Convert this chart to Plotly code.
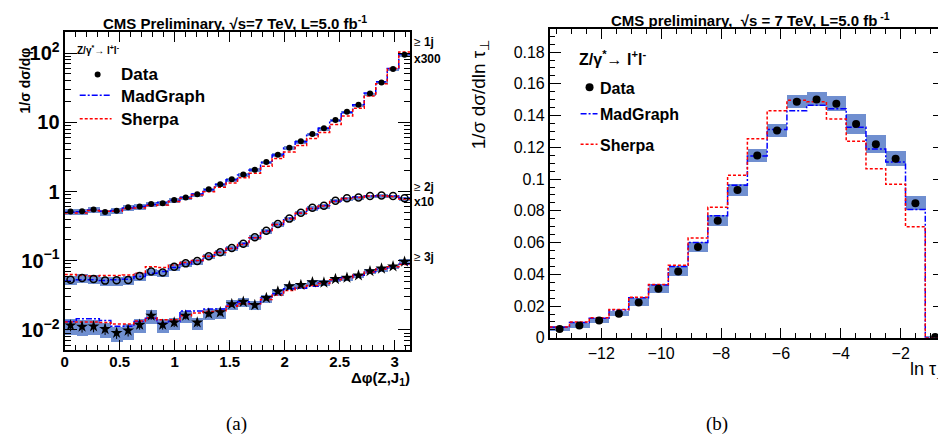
import math
import plotly.graph_objects as go

W, H = 946, 441

# ---------------- panel (a): delta phi(Z, J1) ----------------
dphi_nbins = 30
dphi_max = math.pi

# >=1 jet (x300)
s1_data = [0.515, 0.52, 0.55, 0.505, 0.527, 0.594, 0.607, 0.662, 0.677, 0.755,
           0.823, 0.916, 1.08, 1.27, 1.50, 1.76, 2.07, 2.66, 3.40, 4.29,
           5.33, 6.76, 8.22, 10.8, 14.2, 18.0, 26.1, 37.7, 58.9, 94.8]
s1_mg = [0.50, 0.51, 0.54, 0.52, 0.53, 0.58, 0.61, 0.65, 0.69, 0.75,
         0.82, 0.92, 1.06, 1.26, 1.48, 1.74, 2.05, 2.62, 3.38, 4.25,
         5.25, 6.70, 8.20, 10.6, 14.0, 18.0, 26.5, 38.5, 60.0, 97.0]
s1_sh = [0.49, 0.49, 0.53, 0.52, 0.52, 0.57, 0.58, 0.63, 0.64, 0.72,
         0.80, 0.89, 0.99, 1.15, 1.33, 1.58, 1.84, 2.32, 3.00, 3.72,
         4.62, 5.85, 7.10, 9.30, 12.3, 16.0, 24.0, 36.0, 60.0, 104.0]
s1_err = [0.10, 0.10, 0.10, 0.10, 0.10, 0.09, 0.09, 0.09, 0.08, 0.07,
          0.07, 0.07, 0.07, 0.06, 0.06, 0.06, 0.06, 0.06, 0.06, 0.06,
          0.06, 0.06, 0.06, 0.06, 0.05, 0.05, 0.05, 0.05, 0.05, 0.06]

# >=2 jets (x10)
s2_data = [0.0533, 0.0562, 0.0544, 0.0516, 0.0521, 0.0526, 0.060, 0.0699, 0.0676, 0.0822,
           0.0916, 0.099, 0.1165, 0.1327, 0.153, 0.176, 0.219, 0.272, 0.340, 0.406,
           0.494, 0.581, 0.621, 0.738, 0.797, 0.822, 0.859, 0.879, 0.859, 0.797]
s2_mg = [0.051, 0.053, 0.053, 0.052, 0.053, 0.054, 0.059, 0.066, 0.070, 0.080,
         0.090, 0.100, 0.115, 0.133, 0.152, 0.177, 0.215, 0.270, 0.335, 0.410,
         0.490, 0.570, 0.630, 0.730, 0.790, 0.830, 0.860, 0.870, 0.860, 0.800]
s2_sh = [0.063, 0.061, 0.060, 0.061, 0.061, 0.062, 0.066, 0.082, 0.080, 0.087,
         0.094, 0.101, 0.116, 0.131, 0.150, 0.172, 0.214, 0.265, 0.335, 0.400,
         0.485, 0.570, 0.620, 0.720, 0.790, 0.820, 0.860, 0.870, 0.850, 0.780]
s2_err = [0.15, 0.15, 0.15, 0.15, 0.15, 0.15, 0.14, 0.12, 0.12, 0.11,
          0.10, 0.10, 0.09, 0.09, 0.09, 0.08, 0.08, 0.08, 0.07, 0.07,
          0.07, 0.07, 0.07, 0.06, 0.06, 0.06, 0.06, 0.06, 0.06, 0.06]

# >=3 jets
s3_data = [0.01164, 0.01114, 0.01127, 0.0103, 0.00905, 0.0098, 0.0119, 0.0161, 0.0119, 0.0128,
           0.0161, 0.0128, 0.0172, 0.0180, 0.0236, 0.0255, 0.0229, 0.0290, 0.0360, 0.0428,
           0.0447, 0.0488, 0.0483, 0.0544, 0.0568, 0.0613, 0.0706, 0.0771, 0.0830, 0.0968]
s3_mg = [0.0132, 0.0145, 0.0145, 0.0137, 0.0113, 0.0113, 0.0132, 0.0148, 0.0125, 0.0132,
         0.0188, 0.0188, 0.0200, 0.0200, 0.0229, 0.0255, 0.0240, 0.0290, 0.0333, 0.0393,
         0.0400, 0.0428, 0.0477, 0.0532, 0.0574, 0.0619, 0.0692, 0.0753, 0.0822, 0.0887]
s3_sh = [0.0130, 0.0130, 0.0130, 0.0128, 0.0122, 0.0122, 0.0135, 0.0150, 0.0140, 0.0140,
         0.0160, 0.0175, 0.0185, 0.0190, 0.0220, 0.0240, 0.0240, 0.0275, 0.0320, 0.0370,
         0.0410, 0.0440, 0.0470, 0.0530, 0.0570, 0.0620, 0.0690, 0.0760, 0.0820, 0.0880]
s3_err = [0.25, 0.25, 0.25, 0.25, 0.25, 0.25, 0.22, 0.22, 0.22, 0.20,
          0.20, 0.20, 0.18, 0.18, 0.15, 0.15, 0.15, 0.13, 0.12, 0.11,
          0.10, 0.10, 0.10, 0.09, 0.09, 0.08, 0.08, 0.08, 0.08, 0.10]
s3_stat = [0.18, 0.18, 0.18, 0.18, 0.18, 0.18, 0.15, 0.13, 0.15, 0.14,
           0.12, 0.13, 0.11, 0.11, 0.09, 0.09, 0.09, 0.08, 0.07, 0.06,
           0.06, 0.06, 0.06, 0.05, 0.05, 0.05, 0.05, 0.05, 0.05, 0.05]

# ---------------- panel (b): ln tau_perp ----------------
tau_lo = -13.72
tau_width = 0.66
tau_nbins = 20
tau_data = [0.0056, 0.0078, 0.0109, 0.0152, 0.0222, 0.0309, 0.0418, 0.0572, 0.0737, 0.0932,
            0.1148, 0.1306, 0.1488, 0.1502, 0.1475, 0.1347, 0.1220, 0.1128, 0.0848, 0.0005]
tau_mg = [0.0066, 0.0097, 0.0124, 0.0175, 0.0253, 0.0333, 0.0449, 0.0601, 0.0769, 0.0962,
          0.1146, 0.1312, 0.1430, 0.1465, 0.1444, 0.1327, 0.1189, 0.1107, 0.0808, 0.0]
tau_sh = [0.0068, 0.0099, 0.0126, 0.0178, 0.0256, 0.0336, 0.0457, 0.0629, 0.0823, 0.1024,
          0.1255, 0.1430, 0.1496, 0.1487, 0.1378, 0.1238, 0.1066, 0.0967, 0.0700, 0.0]
tau_err = [0.0015, 0.0015, 0.0015, 0.0018, 0.0025, 0.0030, 0.0033, 0.0033, 0.0035, 0.0037,
           0.0040, 0.0042, 0.0043, 0.0043, 0.0050, 0.0064, 0.0055, 0.0045, 0.0044, 0.0005]

FONT = "Liberation Sans, Arial, Helvetica, sans-serif"
SERIF = "Liberation Serif, Times New Roman, serif"
BOX = "rgb(112,143,208)"
MGC = "#0000ff"
SHC = "#ff0000"
MGDASH = "6px,2px,2px,2px"
SHDASH = "3px,2px"


def centers(lo, width, n):
    return [lo + width * (i + 0.5) for i in range(n)]


def edges(lo, width, n):
    return [lo + width * i for i in range(n + 1)]


def step(vals):
    return list(vals) + [vals[-1]]


fig = go.Figure()

dphi_w = dphi_max / dphi_nbins
xc_l = centers(0.0, dphi_w, dphi_nbins)
xe_l = edges(0.0, dphi_w, dphi_nbins)

series = [
    (s1_data, s1_mg, s1_sh, s1_err, dict(symbol="circle", size=6, color="black")),
    (s2_data, s2_mg, s2_sh, s2_err, dict(symbol="circle-open", size=7, color="black",
                                         line=dict(color="black", width=1.5))),
    (s3_data, s3_mg, s3_sh, s3_err, dict(symbol="star", size=9, color="black")),
]

for data, mg, sh, rel, mk in series:
    lo = [v * (1 - r) for v, r in zip(data, rel)]
    hi = [v * (1 + r) for v, r in zip(data, rel)]
    fig.add_trace(go.Bar(x=xc_l, y=[h - l for h, l in zip(hi, lo)], base=lo, width=dphi_w,
                         marker=dict(color=BOX, line=dict(width=0)),
                         xaxis="x", yaxis="y", showlegend=False, hoverinfo="skip"))
for data, mg, sh, rel, mk in series:
    fig.add_trace(go.Scatter(x=xe_l, y=step(mg), mode="lines",
                             line=dict(shape="hv", color=MGC, dash=MGDASH, width=1.5),
                             xaxis="x", yaxis="y", showlegend=False))
    fig.add_trace(go.Scatter(x=xe_l, y=step(sh), mode="lines",
                             line=dict(shape="hv", color=SHC, dash=SHDASH, width=1.5),
                             xaxis="x", yaxis="y", showlegend=False))
for idx, (data, mg, sh, rel, mk) in enumerate(series):
    ey = None
    if idx == 2:
        ey = dict(type="data", array=[v * s for v, s in zip(data, s3_stat)],
                  color="black", thickness=1, width=0)
    fig.add_trace(go.Scatter(x=xc_l, y=data, mode="markers", marker=mk, error_y=ey,
                             xaxis="x", yaxis="y", showlegend=False))

# panel (b)
xc_r = centers(tau_lo, tau_width, tau_nbins)
xe_r = edges(tau_lo, tau_width, tau_nbins)
fig.add_trace(go.Bar(x=xc_r, y=[2 * e for e in tau_err], base=[v - e for v, e in zip(tau_data, tau_err)],
                     width=tau_width, marker=dict(color=BOX, line=dict(width=0)),
                     xaxis="x2", yaxis="y2", showlegend=False, hoverinfo="skip"))
fig.add_trace(go.Scatter(x=xe_r, y=step(tau_mg), mode="lines",
                         line=dict(shape="hv", color=MGC, dash=MGDASH, width=1.5),
                         xaxis="x2", yaxis="y2", showlegend=False))
fig.add_trace(go.Scatter(x=xe_r, y=step(tau_sh), mode="lines",
                         line=dict(shape="hv", color=SHC, dash=SHDASH, width=1.5),
                         xaxis="x2", yaxis="y2", showlegend=False))
fig.add_trace(go.Scatter(x=xc_r, y=tau_data, mode="markers",
                         marker=dict(symbol="circle", size=8, color="black"),
                         xaxis="x2", yaxis="y2", showlegend=False))


def px(x):
    return x / W


def py(y):
    return 1 - y / H


axis_common = dict(showgrid=False, zeroline=False, showline=True, linecolor="black",
                   mirror="allticks", ticks="inside", tickcolor="black")

fig.update_layout(
    width=W, height=H, autosize=False,
    margin=dict(l=0, r=0, t=0, b=0),
    paper_bgcolor="white", plot_bgcolor="white",
    barmode="overlay", bargap=0,
    xaxis=dict(domain=[px(53), px(400)], anchor="y", range=[0, dphi_max],
               tick0=0, dtick=0.5, ticklen=10, tickwidth=1, linewidth=2,
               ticklabelstandoff=-3,
               minor=dict(ticks="inside", ticklen=5, dtick=0.1, tickcolor="black"),
               tickfont=dict(family=FONT, size=15, color="black", weight="bold"),
               **axis_common),
    yaxis=dict(domain=[py(349), py(24)], anchor="x", type="log", range=[-2.288, 2.312],
               dtick=1, exponentformat="power", ticklen=12, tickwidth=1, linewidth=2,
               minor=dict(ticks="inside", ticklen=6, tickcolor="black"),
               tickfont=dict(family=FONT, size=16, color="black", weight="bold"),
               **axis_common),
    xaxis2=dict(domain=[px(540), px(937)], anchor="y2", range=[tau_lo, tau_lo + tau_width * tau_nbins],
                tick0=0, dtick=2, ticklen=10, tickwidth=1, linewidth=1.5,
                minor=dict(ticks="inside", ticklen=5, dtick=0.5, tickcolor="black"),
                tickfont=dict(family=FONT, size=16, color="black"),
                **axis_common),
    yaxis2=dict(domain=[py(336.7), py(21.7)], anchor="x2", range=[0, 0.1944],
                tick0=0, dtick=0.02, ticklen=12, tickwidth=1, linewidth=1.5,
                minor=dict(ticks="inside", ticklen=6, dtick=0.005, tickcolor="black"),
                tickfont=dict(family=FONT, size=16, color="black"),
                **axis_common),
)

ann = []


def text(x, y, s, size, xanchor="left", yanchor="middle", bold=False, family=FONT, angle=0, color="black"):
    ann.append(dict(x=px(x), y=py(y), xref="paper", yref="paper", text=s, showarrow=False,
                    xanchor=xanchor, yanchor=yanchor, textangle=angle, borderpad=0,
                    font=dict(family=family, size=size, color=color, weight="bold" if bold else "normal")))


# titles
text(224, 15, "CMS Preliminary, √s=7 TeV, L=5.0 fb<sup>-1</sup>", 15, xanchor="center", bold=True)
text(742, 12, "CMS preliminary,  √s = 7 TeV, L=5.0 fb<sup> -1</sup>", 15, xanchor="center", bold=True)
# axis titles
text(14, 74, "1/σ dσ/dφ", 14, xanchor="center", yanchor="middle", bold=True, angle=-90)
text(470, 88, "1/σ dσ/dln τ<sub>⊥</sub>", 19, xanchor="center", yanchor="middle", angle=-90)
text(401, 378, "Δφ(Z,J<sub>1</sub>)", 15, xanchor="right", bold=True)
text(940, 370, "ln τ<sub>⊥</sub>", 18, xanchor="right")
# jet multiplicity labels
text(403, 35, "≥ <b>1j</b>", 12)
text(403, 52, "x300", 12, bold=True)
text(403, 183, "≥ <b>2j</b>", 12)
text(403, 198, "x10", 12, bold=True)
text(403, 254, "≥ <b>3j</b>", 12)
# legends
text(64, 43, "Z/γ<sup>*</sup>→ l<sup>+</sup>l<sup>-</sup>", 10, bold=True)
text(108, 68, "Data", 17, bold=True)
text(108, 90, "MadGraph", 17, bold=True)
text(108, 114, "Sherpa", 17, bold=True)
text(568, 51, "Z/γ<sup>*</sup>→ l<sup>+</sup>l<sup>-</sup>", 16, bold=True)
text(589, 82, "Data", 16, bold=True)
text(589, 109, "MadGraph", 16, bold=True)
text(589, 140, "Sherpa", 16, bold=True)
# captions
text(225, 425, "(a)", 19, xanchor="center", family=SERIF)
text(708, 425, "(b)", 19, xanchor="center", family=SERIF)

shapes = []


def legline(x0, x1, y, color, dash):
    shapes.append(dict(type="line", xref="paper", yref="paper", x0=px(x0), x1=px(x1), y0=py(y), y1=py(y),
                       line=dict(color=color, width=1.5, dash=dash)))


def legdot(x, y, r):
    shapes.append(dict(type="circle", xref="paper", yref="paper", xsizemode="pixel", ysizemode="pixel",
                       xanchor=px(x), yanchor=py(y), x0=-r, x1=r, y0=-r, y1=r,
                       fillcolor="black", line=dict(color="black", width=0)))


legline(68, 100, 89, MGC, MGDASH)
legline(68, 100, 113, SHC, SHDASH)
legdot(86, 68, 3)
legline(571, 588, 108, MGC, MGDASH)
legline(571, 588, 139, SHC, SHDASH)
legdot(580, 81, 4)

fig.update_layout(annotations=ann, shapes=shapes)
fig.write_html("out.html")
